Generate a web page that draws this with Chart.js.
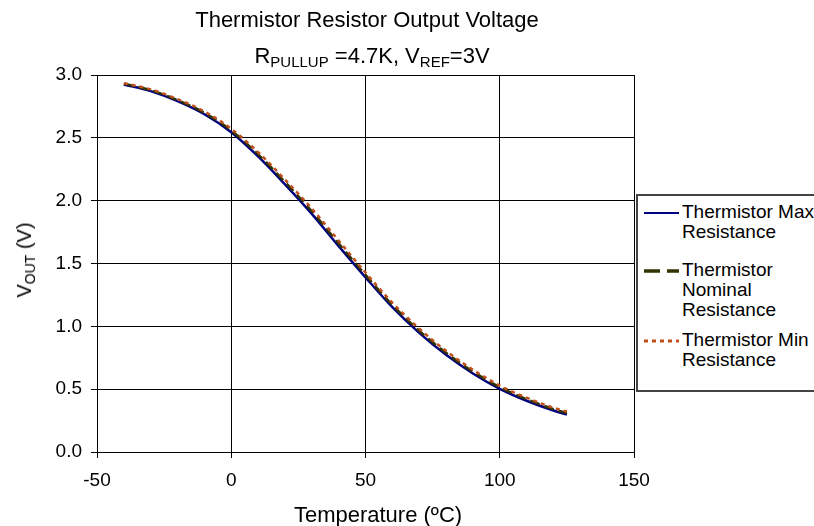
<!DOCTYPE html>
<html>
<head>
<meta charset="utf-8">
<script src="https://cdn.jsdelivr.net/npm/chart.js@4"></script>
<style>
    body { margin: 0; background: #fff; font-family: 'Liberation Sans', Arial, sans-serif; color: #000; }
    #wrap { position: relative; width: 814px; height: 526px; overflow: hidden; }
    #chart { position: absolute; left: 0; top: 0; }
    .txt { position: absolute; white-space: nowrap; font-size: 22px; line-height: 22px; }
    .txt sub { font-size: 15px; line-height: 0; vertical-align: -4px; }
    #title1 { left: 367px; top: 9px; transform: translateX(-50%); }
    #title2 { left: 372px; top: 45px; transform: translateX(-50%); }
    #xtitle { left: 378px; top: 504px; transform: translateX(-50%); }
    #ytitle { left: 24px; top: 260px; font-size: 20px; transform: translate(-50%, -50%) rotate(-90deg); }
    #ytitle sub { font-size: 14px; vertical-align: -4px; }
    #legend { position: absolute; left: 636px; top: 194px; width: 190px; height: 194px; border: 2px solid #444; background: #fff; }
    .entry { position: absolute; left: 44px; font-size: 19px; line-height: 20px; white-space: nowrap; }
    .sample { position: absolute; left: 5px; }
</style>
</head>
<body>
<div id="wrap">
    <canvas id="chart" width="814" height="526"></canvas>
    <div id="title1" class="txt">Thermistor Resistor Output Voltage</div>
    <div id="title2" class="txt">R<sub>PULLUP</sub> =4.7K, V<sub>REF</sub>=3V</div>
    <div id="xtitle" class="txt">Temperature (ºC)</div>
    <div id="ytitle" class="txt">V<sub>OUT</sub> (V)</div>
    <div id="legend"></div>
</div>
<script>
// temperatures (°C) the curves were read at
const TEMPS = [-40, -30, -20, -10, 0, 10, 20, 30, 40, 50, 60, 70, 80, 90, 100, 110, 120, 125];

// output voltage (V) for each thermistor tolerance
const V_MAX = [2.925, 2.872, 2.792, 2.688, 2.545, 2.352, 2.130, 1.895, 1.638, 1.390, 1.152, 0.948, 0.773, 0.625, 0.503, 0.408, 0.330, 0.298];
const V_NOM = [2.930, 2.879, 2.800, 2.699, 2.558, 2.369, 2.149, 1.916, 1.660, 1.409, 1.170, 0.965, 0.789, 0.640, 0.516, 0.420, 0.341, 0.310];
const V_MIN = [2.935, 2.886, 2.808, 2.710, 2.572, 2.386, 2.168, 1.937, 1.682, 1.428, 1.188, 0.982, 0.805, 0.655, 0.528, 0.432, 0.352, 0.322];

const SERIES_NAMES = [
    ['Thermistor Max', 'Resistance'],
    ['Thermistor', 'Nominal', 'Resistance'],
    ['Thermistor Min', 'Resistance']
];

const X_TICKS = [-50, 0, 50, 100, 150];
const Y_TICKS = [0, 0.5, 1.0, 1.5, 2.0, 2.5, 3.0];

(function() {
    'use strict';

    const FONT = "'Liberation Sans', Arial, sans-serif";
    const STYLES = [
        { color: '#000080', dash: [], width: 2.5, key: [], keyWidth: 2 },
        { color: '#333300', dash: [10, 5], width: 2.5, key: [16, 7], keyWidth: 3.5 },
        { color: '#C0501A', dash: [4, 4], width: 2.5, key: [4, 4], keyWidth: 3 }
    ];
    const LEGEND_TOPS = [6, 64, 134];

    function toPoints(values) {
        return TEMPS.map((t, i) => ({ x: t, y: values[i] }));
    }

    function buildLegend() {
        const box = document.getElementById('legend');
        SERIES_NAMES.forEach((lines, i) => {
            const s = STYLES[i];
            const svg = `<svg class="sample" width="36" height="8" style="top:${LEGEND_TOPS[i] + 7}px">
                <line x1="1" y1="4" x2="36" y2="4" stroke="${s.color}" stroke-width="${s.keyWidth}"
                    stroke-dasharray="${s.key.join(',')}"/></svg>`;
            const div = document.createElement('div');
            div.className = 'entry';
            div.style.top = LEGEND_TOPS[i] + 'px';
            div.innerHTML = lines.join('<br>');
            box.insertAdjacentHTML('beforeend', svg);
            box.appendChild(div);
        });
    }

    function initChart() {
        const series = [V_MAX, V_NOM, V_MIN];
        const tickFont = { family: FONT, size: 19 };
        const grid = { color: '#000', lineWidth: 1, tickLength: 6, tickColor: '#000' };

        new Chart(document.getElementById('chart'), {
            type: 'line',
            data: {
                datasets: series.map((vals, i) => ({
                    label: SERIES_NAMES[i].join(' '),
                    data: toPoints(vals),
                    borderColor: STYLES[i].color,
                    borderDash: STYLES[i].dash,
                    borderWidth: STYLES[i].width,
                    pointRadius: 0,
                    cubicInterpolationMode: 'monotone',
                    fill: false,
                    order: 3 - i
                }))
            },
            options: {
                responsive: false,
                animation: false,
                layout: { padding: { top: 75, right: 180, left: 0, bottom: 0 } },
                plugins: { legend: { display: false }, tooltip: { enabled: false } },
                scales: {
                    x: {
                        type: 'linear',
                        min: X_TICKS[0],
                        max: X_TICKS[X_TICKS.length - 1],
                        afterBuildTicks: s => { s.ticks = X_TICKS.map(v => ({ value: v })); },
                        ticks: { font: tickFont, color: '#000', padding: 11, maxRotation: 0 },
                        grid: grid,
                        border: { color: '#000', width: 1 },
                        afterFit: s => { s.height = 74; }
                    },
                    y: {
                        min: Y_TICKS[0],
                        max: Y_TICKS[Y_TICKS.length - 1],
                        afterBuildTicks: s => { s.ticks = Y_TICKS.map(v => ({ value: v })); },
                        ticks: { font: tickFont, color: '#000', padding: 9, callback: v => v.toFixed(1) },
                        grid: grid,
                        border: { color: '#000', width: 1 },
                        afterFit: s => { s.width = 97; }
                    }
                }
            }
        });
    }

    buildLegend();
    initChart();
})();
</script>
</body>
</html>
